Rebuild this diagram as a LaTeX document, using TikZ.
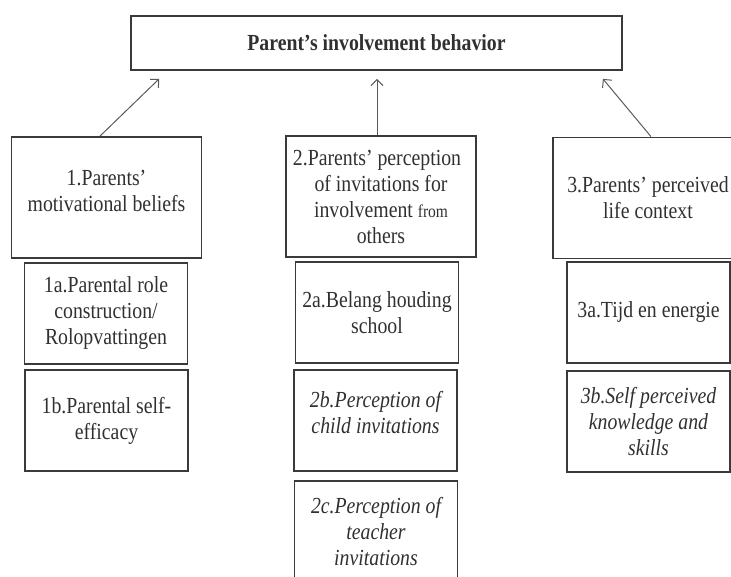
\documentclass[tikz,border=0pt]{standalone}
\usepackage{fontspec}
\setmainfont[FakeStretch=0.86]{Liberation Serif}
\usepackage{xcolor}
\usepackage{tikz}
\usetikzlibrary{arrows.meta}
\definecolor{boxline}{HTML}{3A3A3A}
\definecolor{boxtext}{HTML}{303030}
\definecolor{arrline}{HTML}{5A5A5A}
\tikzset{
    boxnode/.style = {align=center, inner sep=0pt, text centered, draw=boxline, line width=1.8pt, text=boxtext, font=\fontsize{23}{26}\selectfont},
    top_node/.style = {boxnode, minimum width=491pt, minimum height=54pt, font=\fontsize{23}{26}\selectfont\bfseries},
    factor_node/.style = {boxnode, minimum width=190pt, minimum height=121pt},
    sub_node/.style = {boxnode, minimum width=163pt, minimum height=101pt},
    sub_it/.style = {sub_node, font=\fontsize{23}{26}\selectfont\itshape},
    up/.style = {draw=arrline, line width=1pt, -{Straight Barb[length=6pt, width=12pt]}}
}

\begin{document}
\begin{tikzpicture}[x=1pt, y=-1pt]
    \useasboundingbox (0,0) rectangle (731,577);

    \node [top_node] (behavior) at (376.5,43) {Parent’s involvement behavior};

    % three factors
    \node [factor_node] (factor1) at (106.5,197.5) {1.Parents’\\motivational beliefs\\[-12pt]};
    \node [factor_node] (factor2) at (381,196.5)
        {\hspace*{-8pt}2.Parents’ perception\\of invitations for\\involvement {\fontsize{18}{26}\selectfont from}\\others};
    \node [factor_node] (factor3) at (648,198) {3.Parents’ perceived\\life context};

    % sub factors
    \node [sub_node] (sub1a) at (106,313.5) {1a.Parental role\\construction/\\Rolopvattingen};
    \node [sub_node] (sub1b) at (106.5,420.5) {1b.Parental self-\\efficacy};
    \node [sub_node] (sub2a) at (377,312.5) {2a.Belang houding\\school};
    \node [sub_it] (sub2b) at (375.5,420.5) {2b.Perception of\\child invitations\\[-10pt]};
    \node [sub_it] (sub2c) at (376,531.5) {2c.Perception of\\teacher\\invitations};
    \node [sub_node] (sub3a) at (648.5,312.5) {3a.Tijd en energie};
    \node [sub_it] (sub3b) at (648.5,421.5) {3b.Self perceived\\knowledge and\\skills};

    \draw [up] ([xshift=-6.5pt]factor1.north) -- ([xshift=29pt, yshift=-8pt]behavior.south west);
    \draw [up] ([xshift=-4pt]factor2.north) -- ([xshift=0.5pt, yshift=-8pt]behavior.south);
    \draw [up] ([xshift=3pt]factor3.north) -- ([xshift=-20pt, yshift=-8pt]behavior.south east);
\end{tikzpicture}
\end{document}
